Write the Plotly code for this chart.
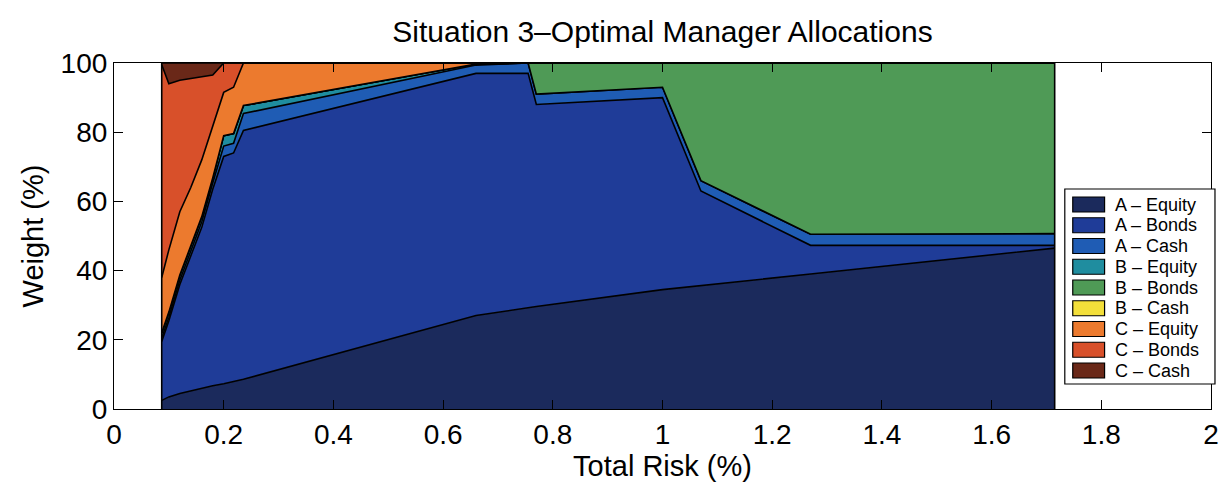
import plotly.graph_objects as go

# Total risk (%) at each optimisation point of the frontier
risk = [0.087, 0.10, 0.12, 0.14, 0.16, 0.18, 0.20, 0.218, 0.236,
        0.66, 0.755, 0.77, 1.0, 1.07, 1.27, 1.715]

# Manager allocation weights (%) at each risk level
a_equity = [2.5, 3.5, 4.5, 5.3, 6.0, 6.7, 7.3, 8.0, 8.6, 27.0, 29.3, 29.6, 34.5, 35.7, 39.0, 46.5]
a_bonds = [17.0, 22.0, 31.5, 39.2, 46.5, 56.8, 65.7, 66.0, 71.9, 70.0, 67.7, 58.4, 55.5, 27.3, 8.3, 0.8]
a_cash = [1.0, 1.0, 1.2, 1.4, 1.6, 1.8, 3.0, 2.8, 4.9, 2.4, 3.0, 3.0, 3.0, 3.0, 3.2, 3.4]
b_equity = [1.5, 1.5, 1.5, 1.5, 1.5, 1.5, 3.0, 2.8, 2.3, 0.3, 0.0, 0.0, 0.0, 0.0, 0.0, 0.0]
b_bonds = [0.0, 0.0, 0.0, 0.0, 0.0, 0.0, 0.0, 0.0, 0.0, 0.0, 0.0, 9.0, 7.0, 34.0, 49.5, 49.3]
b_cash = [0.0] * 16
c_equity = [16.0, 18.0, 18.3, 16.6, 16.4, 15.2, 12.5, 13.4, 12.3, 0.3, 0.0, 0.0, 0.0, 0.0, 0.0, 0.0]
c_bonds = [61.5, 48.0, 38.0, 31.5, 24.0, 14.5, 8.5, 7.0, 0.0, 0.0, 0.0, 0.0, 0.0, 0.0, 0.0, 0.0]
c_cash = [0.5, 6.0, 5.0, 4.5, 4.0, 3.5, 0.0, 0.0, 0.0, 0.0, 0.0, 0.0, 0.0, 0.0, 0.0, 0.0]

names = ["A \u2013 Equity", "A \u2013 Bonds", "A \u2013 Cash",
         "B \u2013 Equity", "B \u2013 Bonds", "B \u2013 Cash",
         "C \u2013 Equity", "C \u2013 Bonds", "C \u2013 Cash"]
series = [a_equity, a_bonds, a_cash, b_equity, b_bonds, b_cash, c_equity, c_bonds, c_cash]
colors = ["#1b2a5c", "#1f3c98", "#1f5cb4", "#1f8d9f", "#4f9a56",
          "#f3df3a", "#ec7a2e", "#d8502a", "#6a2818"]

x_ticks = [0, 0.2, 0.4, 0.6, 0.8, 1, 1.2, 1.4, 1.6, 1.8, 2]
x_tick_text = ["0", "0.2", "0.4", "0.6", "0.8", "1", "1.2", "1.4", "1.6", "1.8", "2"]
y_ticks = [0, 20, 40, 60, 80, 100]

FONT = "Liberation Sans, Arial, sans-serif"
W, H = 1231, 489
M_L, M_R, M_T, M_B = 114, 14, 63, 80
EDGE = 1.6

fig = go.Figure()
for name, vals, col in zip(names, series, colors):
    fig.add_trace(go.Scatter(
        x=risk, y=vals, name=name, stackgroup="alloc", mode="lines",
        line=dict(color="black", width=EDGE), fillcolor=col, showlegend=False,
    ))

# closing edges of the stacked polygons at both ends of the frontier
fig.add_trace(go.Scatter(
    x=[risk[0], risk[0], None, risk[-1], risk[-1]],
    y=[0, 100, None, 0, 100], mode="lines",
    line=dict(color="black", width=EDGE), showlegend=False, hoverinfo="skip",
))

# legend drawn as a boxed key of swatches and labels
pw = W - M_L - M_R
ph = H - M_T - M_B


def px_x(px):
    return (px - M_L) / pw


def px_y(py):
    return (H - M_B - py) / ph


shapes = [dict(type="rect", xref="paper", yref="paper",
               x0=px_x(1070), x1=px_x(1221), y0=px_y(384), y1=px_y(189),
               fillcolor="white", line=dict(color="black", width=1.2), layer="above")]
annotations = []
row_h = 20.75
for i, (name, col) in enumerate(zip(names, colors)):
    cy = 204.5 + i * row_h
    shapes.append(dict(type="rect", xref="paper", yref="paper",
                       x0=px_x(1078), x1=px_x(1110), y0=px_y(cy + 7.5), y1=px_y(cy - 7.5),
                       fillcolor=col, line=dict(color="black", width=1.2), layer="above"))
    annotations.append(dict(text=name, xref="paper", yref="paper",
                            x=px_x(1118), y=px_y(cy), xanchor="left", yanchor="middle",
                            showarrow=False, font=dict(family=FONT, size=18, color="black")))

fig.update_layout(
    width=W, height=H,
    margin=dict(l=M_L, r=M_R, t=M_T, b=M_B),
    paper_bgcolor="white", plot_bgcolor="white",
    font=dict(family=FONT, color="black"),
    title=dict(text="Situation 3\u2013Optimal Manager Allocations",
               x=0.5, xref="paper", xanchor="center",
               y=1 - 31 / H, yref="container", yanchor="middle",
               font=dict(family=FONT, size=30, color="black")),
    xaxis=dict(range=[0, 2], tickvals=x_ticks, ticktext=x_tick_text,
               ticks="inside", ticklen=9, tickcolor="black", mirror="ticks",
               showline=True, linecolor="black", linewidth=1.2, showgrid=False,
               zeroline=False, tickfont=dict(family=FONT, size=28),
               title=dict(text="Total Risk (%)", font=dict(family=FONT, size=29), standoff=6)),
    yaxis=dict(range=[0, 100], tickvals=y_ticks,
               ticks="inside", ticklen=9, tickcolor="black", mirror="ticks",
               showline=True, linecolor="black", linewidth=1.2, showgrid=False,
               zeroline=False, tickfont=dict(family=FONT, size=28),
               title=dict(text="Weight (%)", font=dict(family=FONT, size=29), standoff=8)),
    shapes=shapes,
    annotations=annotations,
    showlegend=False,
)

fig.write_html("out.html")
